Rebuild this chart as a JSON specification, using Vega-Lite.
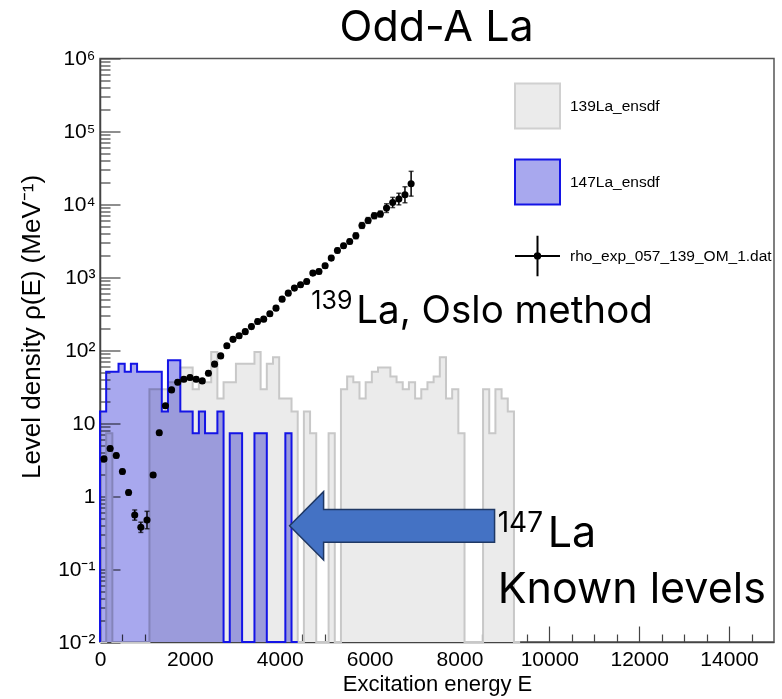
{
  "$schema": "https://vega.github.io/schema/vega-lite/v6.json",
  "width": 674,
  "height": 583.5,
  "autosize": {"type": "none"},
  "padding": {"left": 100, "top": 58.5, "right": 8, "bottom": 57},
  "background": "white",
  "config": {
    "view": {"stroke": "#555555", "strokeWidth": 1.5},
    "axis": {"grid": false, "domainColor": "#444444", "tickColor": "#444444", "labelColor": "black", "titleColor": "black", "labelFont": "Liberation Sans", "titleFont": "Liberation Sans", "titleFontWeight": "normal"}
  },
  "datasets": {
    "hist": [
      {"series": "139La_ensdf", "i": 0, "E": 0, "rho": 0.01},
      {"series": "139La_ensdf", "i": 1, "E": 137.5, "rho": 7.3},
      {"series": "139La_ensdf", "i": 2, "E": 275, "rho": 0.01},
      {"series": "139La_ensdf", "i": 3, "E": 412.5, "rho": 0.01},
      {"series": "139La_ensdf", "i": 4, "E": 550, "rho": 0.01},
      {"series": "139La_ensdf", "i": 5, "E": 687.5, "rho": 0.01},
      {"series": "139La_ensdf", "i": 6, "E": 825, "rho": 0.01},
      {"series": "139La_ensdf", "i": 7, "E": 962.5, "rho": 0.01},
      {"series": "139La_ensdf", "i": 8, "E": 1100, "rho": 29.1},
      {"series": "139La_ensdf", "i": 9, "E": 1237.5, "rho": 29.1},
      {"series": "139La_ensdf", "i": 10, "E": 1375, "rho": 29.1},
      {"series": "139La_ensdf", "i": 11, "E": 1512.5, "rho": 36.4},
      {"series": "139La_ensdf", "i": 12, "E": 1650, "rho": 36.4},
      {"series": "139La_ensdf", "i": 13, "E": 1787.5, "rho": 58.2},
      {"series": "139La_ensdf", "i": 14, "E": 1925, "rho": 58.2},
      {"series": "139La_ensdf", "i": 15, "E": 2062.5, "rho": 29.1},
      {"series": "139La_ensdf", "i": 16, "E": 2200, "rho": 36.4},
      {"series": "139La_ensdf", "i": 17, "E": 2337.5, "rho": 36.4},
      {"series": "139La_ensdf", "i": 18, "E": 2475, "rho": 94.5},
      {"series": "139La_ensdf", "i": 19, "E": 2612.5, "rho": 21.8},
      {"series": "139La_ensdf", "i": 20, "E": 2750, "rho": 36.4},
      {"series": "139La_ensdf", "i": 21, "E": 2887.5, "rho": 36.4},
      {"series": "139La_ensdf", "i": 22, "E": 3025, "rho": 65.5},
      {"series": "139La_ensdf", "i": 23, "E": 3162.5, "rho": 65.5},
      {"series": "139La_ensdf", "i": 24, "E": 3300, "rho": 65.5},
      {"series": "139La_ensdf", "i": 25, "E": 3437.5, "rho": 94.5},
      {"series": "139La_ensdf", "i": 26, "E": 3575, "rho": 29.1},
      {"series": "139La_ensdf", "i": 27, "E": 3712.5, "rho": 65.5},
      {"series": "139La_ensdf", "i": 28, "E": 3850, "rho": 80},
      {"series": "139La_ensdf", "i": 29, "E": 3987.5, "rho": 21.8},
      {"series": "139La_ensdf", "i": 30, "E": 4125, "rho": 21.8},
      {"series": "139La_ensdf", "i": 31, "E": 4262.5, "rho": 14.5},
      {"series": "139La_ensdf", "i": 32, "E": 4400, "rho": 0.01},
      {"series": "139La_ensdf", "i": 33, "E": 4537.5, "rho": 14.5},
      {"series": "139La_ensdf", "i": 34, "E": 4675, "rho": 7.3},
      {"series": "139La_ensdf", "i": 35, "E": 4812.5, "rho": 0.01},
      {"series": "139La_ensdf", "i": 36, "E": 4950, "rho": 0.01},
      {"series": "139La_ensdf", "i": 37, "E": 5087.5, "rho": 7.3},
      {"series": "139La_ensdf", "i": 38, "E": 5225, "rho": 0.01},
      {"series": "139La_ensdf", "i": 39, "E": 5362.5, "rho": 29.1},
      {"series": "139La_ensdf", "i": 40, "E": 5500, "rho": 43.6},
      {"series": "139La_ensdf", "i": 41, "E": 5637.5, "rho": 36.4},
      {"series": "139La_ensdf", "i": 42, "E": 5775, "rho": 21.8},
      {"series": "139La_ensdf", "i": 43, "E": 5912.5, "rho": 36.4},
      {"series": "139La_ensdf", "i": 44, "E": 6050, "rho": 50.9},
      {"series": "139La_ensdf", "i": 45, "E": 6187.5, "rho": 58.2},
      {"series": "139La_ensdf", "i": 46, "E": 6325, "rho": 58.2},
      {"series": "139La_ensdf", "i": 47, "E": 6462.5, "rho": 43.6},
      {"series": "139La_ensdf", "i": 48, "E": 6600, "rho": 36.4},
      {"series": "139La_ensdf", "i": 49, "E": 6737.5, "rho": 29.1},
      {"series": "139La_ensdf", "i": 50, "E": 6875, "rho": 36.4},
      {"series": "139La_ensdf", "i": 51, "E": 7012.5, "rho": 21.8},
      {"series": "139La_ensdf", "i": 52, "E": 7150, "rho": 29.1},
      {"series": "139La_ensdf", "i": 53, "E": 7287.5, "rho": 36.4},
      {"series": "139La_ensdf", "i": 54, "E": 7425, "rho": 43.6},
      {"series": "139La_ensdf", "i": 55, "E": 7562.5, "rho": 80},
      {"series": "139La_ensdf", "i": 56, "E": 7700, "rho": 21.8},
      {"series": "139La_ensdf", "i": 57, "E": 7837.5, "rho": 29.1},
      {"series": "139La_ensdf", "i": 58, "E": 7975, "rho": 7.3},
      {"series": "139La_ensdf", "i": 59, "E": 8112.5, "rho": 0.01},
      {"series": "139La_ensdf", "i": 60, "E": 8250, "rho": 0.01},
      {"series": "139La_ensdf", "i": 61, "E": 8387.5, "rho": 0.01},
      {"series": "139La_ensdf", "i": 62, "E": 8525, "rho": 29.1},
      {"series": "139La_ensdf", "i": 63, "E": 8662.5, "rho": 7.3},
      {"series": "139La_ensdf", "i": 64, "E": 8800, "rho": 29.1},
      {"series": "139La_ensdf", "i": 65, "E": 8937.5, "rho": 21.8},
      {"series": "139La_ensdf", "i": 66, "E": 9075, "rho": 14.5},
      {"series": "139La_ensdf", "i": 67, "E": 9212.5, "rho": 0.01},
      {"series": "139La_ensdf", "i": 68, "E": 9350, "rho": 0.01},
      {"series": "147La_ensdf", "i": 0, "E": 0, "rho": 0.01},
      {"series": "147La_ensdf", "i": 1, "E": 0, "rho": 14.5},
      {"series": "147La_ensdf", "i": 2, "E": 137.5, "rho": 50.9},
      {"series": "147La_ensdf", "i": 3, "E": 275, "rho": 50.9},
      {"series": "147La_ensdf", "i": 4, "E": 412.5, "rho": 65.5},
      {"series": "147La_ensdf", "i": 5, "E": 550, "rho": 50.9},
      {"series": "147La_ensdf", "i": 6, "E": 687.5, "rho": 65.5},
      {"series": "147La_ensdf", "i": 7, "E": 825, "rho": 50.9},
      {"series": "147La_ensdf", "i": 8, "E": 962.5, "rho": 50.9},
      {"series": "147La_ensdf", "i": 9, "E": 1100, "rho": 50.9},
      {"series": "147La_ensdf", "i": 10, "E": 1237.5, "rho": 50.9},
      {"series": "147La_ensdf", "i": 11, "E": 1375, "rho": 14.5},
      {"series": "147La_ensdf", "i": 12, "E": 1512.5, "rho": 72.7},
      {"series": "147La_ensdf", "i": 13, "E": 1650, "rho": 72.7},
      {"series": "147La_ensdf", "i": 14, "E": 1787.5, "rho": 14.5},
      {"series": "147La_ensdf", "i": 15, "E": 1925, "rho": 14.5},
      {"series": "147La_ensdf", "i": 16, "E": 2062.5, "rho": 7.3},
      {"series": "147La_ensdf", "i": 17, "E": 2200, "rho": 14.5},
      {"series": "147La_ensdf", "i": 18, "E": 2337.5, "rho": 7.3},
      {"series": "147La_ensdf", "i": 19, "E": 2475, "rho": 7.3},
      {"series": "147La_ensdf", "i": 20, "E": 2612.5, "rho": 14.5},
      {"series": "147La_ensdf", "i": 21, "E": 2750, "rho": 0.01},
      {"series": "147La_ensdf", "i": 22, "E": 2887.5, "rho": 7.3},
      {"series": "147La_ensdf", "i": 23, "E": 3025, "rho": 7.3},
      {"series": "147La_ensdf", "i": 24, "E": 3162.5, "rho": 0.01},
      {"series": "147La_ensdf", "i": 25, "E": 3300, "rho": 0.01},
      {"series": "147La_ensdf", "i": 26, "E": 3437.5, "rho": 7.3},
      {"series": "147La_ensdf", "i": 27, "E": 3575, "rho": 7.3},
      {"series": "147La_ensdf", "i": 28, "E": 3712.5, "rho": 0.01},
      {"series": "147La_ensdf", "i": 29, "E": 3850, "rho": 0.01},
      {"series": "147La_ensdf", "i": 30, "E": 3987.5, "rho": 0.01},
      {"series": "147La_ensdf", "i": 31, "E": 4125, "rho": 7.3},
      {"series": "147La_ensdf", "i": 32, "E": 4262.5, "rho": 0.01},
      {"series": "147La_ensdf", "i": 33, "E": 4400, "rho": 0.01}
    ],
    "rho": [
      {"E": 89, "rho": 3.24, "lo": 3.02, "hi": 3.47},
      {"E": 226, "rho": 4.5, "lo": 4.2, "hi": 4.82},
      {"E": 362, "rho": 3.6, "lo": 3.36, "hi": 3.86},
      {"E": 499, "rho": 2.17, "lo": 2.02, "hi": 2.33},
      {"E": 636, "rho": 1.12, "lo": 1.04, "hi": 1.2},
      {"E": 773, "rho": 0.55, "lo": 0.468, "hi": 0.646},
      {"E": 909, "rho": 0.374, "lo": 0.318, "hi": 0.439},
      {"E": 1046, "rho": 0.47, "lo": 0.357, "hi": 0.619},
      {"E": 1183, "rho": 1.95, "lo": 1.82, "hi": 2.09},
      {"E": 1319, "rho": 7.4, "lo": 6.9, "hi": 7.93},
      {"E": 1456, "rho": 17.3, "lo": 16.1, "hi": 18.5},
      {"E": 1593, "rho": 28.6, "lo": 26.7, "hi": 30.7},
      {"E": 1729, "rho": 36.5, "lo": 34.0, "hi": 39.1},
      {"E": 1866, "rho": 40.1, "lo": 37.4, "hi": 43.0},
      {"E": 2003, "rho": 42.3, "lo": 39.5, "hi": 45.3},
      {"E": 2140, "rho": 40.1, "lo": 37.4, "hi": 43.0},
      {"E": 2276, "rho": 38, "lo": 35.4, "hi": 40.7},
      {"E": 2413, "rho": 48.5, "lo": 45.2, "hi": 52.0},
      {"E": 2550, "rho": 64.5, "lo": 60.2, "hi": 69.1},
      {"E": 2686, "rho": 83.7, "lo": 78.1, "hi": 89.7},
      {"E": 2823, "rho": 115, "lo": 107, "hi": 123},
      {"E": 2960, "rho": 141, "lo": 132, "hi": 151},
      {"E": 3096, "rho": 158, "lo": 147, "hi": 169},
      {"E": 3233, "rho": 180, "lo": 168, "hi": 193},
      {"E": 3370, "rho": 211, "lo": 197, "hi": 226},
      {"E": 3507, "rho": 248, "lo": 231, "hi": 266},
      {"E": 3643, "rho": 267, "lo": 249, "hi": 286},
      {"E": 3780, "rho": 316, "lo": 295, "hi": 339},
      {"E": 3917, "rho": 378, "lo": 353, "hi": 405},
      {"E": 4053, "rho": 502, "lo": 468, "hi": 538},
      {"E": 4190, "rho": 607, "lo": 566, "hi": 651},
      {"E": 4327, "rho": 711, "lo": 663, "hi": 762},
      {"E": 4463, "rho": 789, "lo": 736, "hi": 846},
      {"E": 4600, "rho": 875, "lo": 816, "hi": 938},
      {"E": 4737, "rho": 1142, "lo": 1065, "hi": 1224},
      {"E": 4873, "rho": 1202, "lo": 1121, "hi": 1289},
      {"E": 5010, "rho": 1439, "lo": 1342, "hi": 1543},
      {"E": 5147, "rho": 1834, "lo": 1711, "hi": 1966},
      {"E": 5284, "rho": 2333, "lo": 2176, "hi": 2501},
      {"E": 5420, "rho": 2704, "lo": 2522, "hi": 2899},
      {"E": 5557, "rho": 3097, "lo": 2889, "hi": 3320},
      {"E": 5694, "rho": 3707, "lo": 3382, "hi": 4063},
      {"E": 5830, "rho": 5136, "lo": 4686, "hi": 5629},
      {"E": 5967, "rho": 6017, "lo": 5490, "hi": 6595},
      {"E": 6104, "rho": 6982, "lo": 6370, "hi": 7652},
      {"E": 6240, "rho": 7362, "lo": 6717, "hi": 8069},
      {"E": 6377, "rho": 8893, "lo": 7747, "hi": 10209},
      {"E": 6514, "rho": 10620, "lo": 9038, "hi": 12479},
      {"E": 6651, "rho": 11830, "lo": 9842, "hi": 14220},
      {"E": 6787, "rho": 13550, "lo": 10520, "hi": 17452},
      {"E": 6924, "rho": 19190, "lo": 12975, "hi": 28382}
    ],
    "notes": [
      {"kind": "title", "text": "Odd-A La", "E": 7490, "rho": 1717000},
      {"kind": "sup1", "text": "139", "E": 4704, "rho": 366},
      {"kind": "main1", "text": "La, Oslo method", "E": 5704, "rho": 240},
      {"kind": "sup2", "text": "147", "E": 8851, "rho": 0.326},
      {"kind": "main2", "text": "La", "E": 9962, "rho": 0.203},
      {"kind": "main2", "text": "Known levels", "E": 8851, "rho": 0.0343}
    ],
    "arrow": [
      {"E": 6500, "rho": 0.392}
    ]
  },
  "layer": [
    {
      "data": {"name": "hist"},
      "transform": [{"filter": "datum.series === '139La_ensdf'"}],
      "mark": {"type": "area", "interpolate": "step-after", "fillOpacity": 1},
      "encoding": {
        "x": {"field": "E", "type": "quantitative", "scale": {"domain": [0, 15000], "nice": false, "zero": false},
          "axis": {"orient": "bottom", "values": [0, 2000, 4000, 6000, 8000, 10000, 12000, 14000], "format": "d", "tickSize": -16, "tickWidth": 1.2, "domainWidth": 1.5, "labelFontSize": 21, "labelPadding": 22, "labelFlush": false, "title": "Excitation energy E", "titleFontSize": 22, "titlePadding": 4}},
        "y": {"field": "rho", "type": "quantitative", "stack": null, "scale": {"type": "log", "domain": [0.01, 1000000], "nice": false},
          "axis": {"orient": "left", "values": [0.01, 0.1, 1, 10, 100, 1000, 10000, 100000, 1000000], "tickSize": -20, "tickWidth": 1.2, "domainWidth": 1.5, "labelFontSize": 21, "labelPadding": 25, "labelFlush": false,
            "labelExpr": "datum.value < 0.05 ? '10⁻²' : datum.value < 0.5 ? '10⁻¹' : datum.value < 5 ? '1' : datum.value < 50 ? '10' : datum.value < 500 ? '10²' : datum.value < 5000 ? '10³' : datum.value < 50000 ? '10⁴' : datum.value < 500000 ? '10⁵' : '10⁶'",
            "title": "Level density ρ(E) (MeV⁻¹)", "titleFontSize": 26, "titlePadding": 13, "titleY": 268}},
        "fill": {"field": "series", "type": "nominal",
          "scale": {"domain": ["139La_ensdf", "147La_ensdf", "rho_exp_057_139_OM_1.dat"], "range": ["#ebebeb", "#a8a8ee", "#000000"]},
          "legend": {"title": null, "orient": "none", "legendX": 414, "legendY": 24, "padding": 0, "symbolSize": 2025, "symbolType": "square", "labelFont": "Liberation Sans", "labelFontSize": 15.5, "labelColor": "black", "labelOffset": 9, "rowPadding": 23, "labelLimit": 400, "symbolStrokeWidth": 2,
            "encode": {"symbols": {"update": {
              "shape": {"signal": "datum.value === 'rho_exp_057_139_OM_1.dat' ? 'M-1,0H1M0,-0.9V0.9M-0.12,0A0.12,0.12 0 1,1 0.12,0A0.12,0.12 0 1,1 -0.12,0Z' : 'square'"},
              "stroke": {"signal": "datum.value === '147La_ensdf' ? '#1414e6' : datum.value === '139La_ensdf' ? '#d0d0d0' : '#000000'"},
              "opacity": {"value": 1}, "fillOpacity": {"value": 1}, "strokeOpacity": {"value": 1}, "strokeWidth": {"value": 2}
            }}}}
        }
      }
    },
    {
      "data": {"name": "hist"},
      "transform": [{"filter": "datum.series === '139La_ensdf'"}],
      "mark": {"type": "line", "interpolate": "step-after", "stroke": "#c8c8c8", "strokeWidth": 2},
      "encoding": {
        "x": {"field": "E", "type": "quantitative", "axis": null},
        "y": {"field": "rho", "type": "quantitative", "axis": null},
        "order": {"field": "i", "type": "quantitative"}
      }
    },
    {
      "data": {"name": "hist"},
      "transform": [{"filter": "datum.series === '147La_ensdf'"}],
      "mark": {"type": "area", "interpolate": "step-after", "fillOpacity": 1, "blend": "multiply"},
      "encoding": {
        "x": {"field": "E", "type": "quantitative", "axis": null},
        "y": {"field": "rho", "type": "quantitative", "stack": null, "axis": null},
        "fill": {"field": "series", "type": "nominal"}
      }
    },
    {
      "data": {"name": "hist"},
      "transform": [{"filter": "datum.series === '147La_ensdf'"}],
      "mark": {"type": "line", "interpolate": "step-after", "stroke": "#1414e6", "strokeWidth": 2},
      "encoding": {
        "x": {"field": "E", "type": "quantitative", "axis": null},
        "y": {"field": "rho", "type": "quantitative", "axis": null},
        "order": {"field": "i", "type": "quantitative"}
      }
    },
    {
      "data": {"name": "rho"},
      "mark": {"type": "errorbar", "color": "black", "thickness": 1.5, "ticks": {"size": 5, "color": "black"}},
      "encoding": {
        "x": {"field": "E", "type": "quantitative", "axis": null},
        "y": {"field": "lo", "type": "quantitative", "axis": null},
        "y2": {"field": "hi"}
      }
    },
    {
      "data": {"name": "rho"},
      "mark": {"type": "point", "filled": true, "shape": "circle", "size": 50, "color": "black", "opacity": 1},
      "encoding": {
        "x": {"field": "E", "type": "quantitative",
          "axis": {"orient": "bottom", "values": [500, 1000, 1500, 2500, 3000, 3500, 4500, 5000, 5500, 6500, 7000, 7500, 8500, 9000, 9500, 10500, 11000, 11500, 12500, 13000, 13500, 14500], "tickSize": -8, "tickWidth": 1.2, "labels": false, "domain": false, "title": null}},
        "y": {"field": "rho", "type": "quantitative",
          "axis": {"orient": "left", "values": [0.02, 0.03, 0.04, 0.05, 0.06, 0.07, 0.08, 0.09, 0.2, 0.3, 0.4, 0.5, 0.6, 0.7, 0.8, 0.9, 2, 3, 4, 5, 6, 7, 8, 9, 20, 30, 40, 50, 60, 70, 80, 90, 200, 300, 400, 500, 600, 700, 800, 900, 2000, 3000, 4000, 5000, 6000, 7000, 8000, 9000, 20000, 30000, 40000, 50000, 60000, 70000, 80000, 90000, 200000, 300000, 400000, 500000, 600000, 700000, 800000, 900000], "tickSize": -10, "tickWidth": 1.2, "labels": false, "domain": false, "title": null}}
      }
    },
    {
      "data": {"name": "notes"},
      "transform": [{"filter": "datum.kind === 'title'"}],
      "mark": {"type": "text", "font": "Inter", "fontSize": 43, "align": "center", "baseline": "alphabetic", "color": "black"},
      "encoding": {
        "x": {"field": "E", "type": "quantitative", "axis": null},
        "y": {"field": "rho", "type": "quantitative", "axis": null},
        "text": {"field": "text"}
      }
    },
    {
      "data": {"name": "notes"},
      "transform": [{"filter": "datum.kind === 'sup1'"}],
      "mark": {"type": "text", "font": "Inter", "fontSize": 25, "align": "left", "baseline": "alphabetic", "color": "black"},
      "encoding": {
        "x": {"field": "E", "type": "quantitative", "axis": null},
        "y": {"field": "rho", "type": "quantitative", "axis": null},
        "text": {"field": "text"}
      }
    },
    {
      "data": {"name": "notes"},
      "transform": [{"filter": "datum.kind === 'main1'"}],
      "mark": {"type": "text", "font": "Inter", "fontSize": 38.5, "align": "left", "baseline": "alphabetic", "color": "black"},
      "encoding": {
        "x": {"field": "E", "type": "quantitative", "axis": null},
        "y": {"field": "rho", "type": "quantitative", "axis": null},
        "text": {"field": "text"}
      }
    },
    {
      "data": {"name": "notes"},
      "transform": [{"filter": "datum.kind === 'sup2'"}],
      "mark": {"type": "text", "font": "Inter", "fontSize": 28, "align": "left", "baseline": "alphabetic", "color": "black"},
      "encoding": {
        "x": {"field": "E", "type": "quantitative", "axis": null},
        "y": {"field": "rho", "type": "quantitative", "axis": null},
        "text": {"field": "text"}
      }
    },
    {
      "data": {"name": "notes"},
      "transform": [{"filter": "datum.kind === 'main2'"}],
      "mark": {"type": "text", "font": "Inter", "fontSize": 43, "align": "left", "baseline": "alphabetic", "color": "black"},
      "encoding": {
        "x": {"field": "E", "type": "quantitative", "axis": null},
        "y": {"field": "rho", "type": "quantitative", "axis": null},
        "text": {"field": "text"}
      }
    },
    {
      "data": {"name": "arrow"},
      "mark": {"type": "point", "filled": true, "shape": "M-1,0L-0.668,-0.333L-0.668,-0.16L1,-0.16L1,0.16L-0.668,0.16L-0.668,0.333Z", "size": 42025, "fill": "#4472C4", "stroke": "#1F3864", "strokeWidth": 1.5, "opacity": 1},
      "encoding": {
        "x": {"field": "E", "type": "quantitative", "axis": null},
        "y": {"field": "rho", "type": "quantitative", "axis": null}
      }
    }
  ],
  "resolve": {"axis": {"x": "independent", "y": "independent"}}
}
